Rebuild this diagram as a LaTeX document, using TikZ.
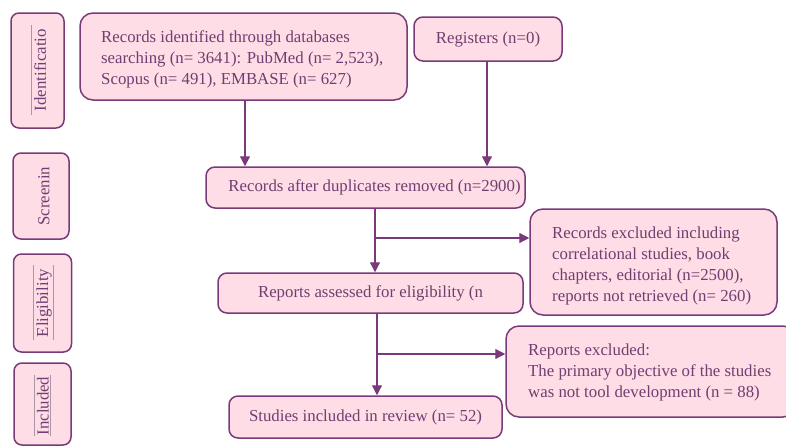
\documentclass[tikz,border=0pt]{standalone}
\usepackage{fontspec}
\setmainfont{Liberation Serif}
\usetikzlibrary{arrows.meta}
\definecolor{boxfill}{RGB}{255,221,230}
\definecolor{boxline}{RGB}{122,58,122}
\definecolor{txt}{RGB}{112,62,112}
\definecolor{rulegray}{RGB}{170,150,165}
\tikzset{
  box/.style={draw=boxline, fill=boxfill, line width=1.5pt, rounded corners=9pt,
    text=txt, font=\fontsize{16.8}{21}\selectfont, inner sep=0pt},
  sidebox/.style={box, rounded corners=8pt},
  plaintext/.style={text=txt, font=\fontsize{16.8}{21}\selectfont, inner sep=0pt, align=left},
  sidetext/.style={text=txt, font=\fontsize{16.8}{21}\selectfont, rotate=90, inner sep=0pt},
  flow/.style={draw=boxline, line width=1.2pt, -{Triangle[length=10pt,width=10pt]}},
  deco/.style={draw=rulegray, line width=0.6pt}
}
\begin{document}
\begin{tikzpicture}[x=1pt,y=-1pt]
\useasboundingbox (0,0) rectangle (786,445);
\clip (0,0) rectangle (786,445);
% side boxes
\node[sidebox, minimum width=53pt, minimum height=115pt] (s1) at (37.5,70.5) {};
\node[sidetext] (s1t) at (40,70) {Identificatio};
\node[sidebox, minimum width=56pt, minimum height=86pt] (s2) at (41,196) {};
\node[sidetext] (s2t) at (44,196) {Screenin};
\node[sidebox, minimum width=58pt, minimum height=98pt] (s3) at (42.5,303) {};
\node[sidetext] (s3t) at (44,303) {Eligibility};
\node[sidebox, minimum width=57pt, minimum height=82pt] (s4) at (42.5,404) {};
\node[sidetext] (s4t) at (43,406) {Included};
% decorative rules beside side labels
\coordinate (d1a) at (31,25); \coordinate (d1b) at (31,115);
\draw[deco] (d1a) -- (d1b);
\coordinate (d3a) at (33,265); \coordinate (d3b) at (33,340);
\coordinate (d3c) at (53,265); \coordinate (d3d) at (53,340);
\draw[deco] (d3a) -- (d3b);
\draw[deco] (d3c) -- (d3d);
\coordinate (d4a) at (34,375); \coordinate (d4b) at (34,436);
\coordinate (d4c) at (50,375); \coordinate (d4d) at (50,436);
\draw[deco] (d4a) -- (d4b);
\draw[deco] (d4c) -- (d4d);
% main boxes
\node[box, rounded corners=13pt, minimum width=327pt, minimum height=87pt] (ident) at (243.5,56.5) {};
\node[plaintext, anchor=west] (identt) at (101,59)
  {Records identified through databases\\searching (n= 3641): PubMed (n= 2,523),\\Scopus (n= 491), EMBASE (n= 627)};
\node[box, minimum width=148pt, minimum height=44pt] (reg) at (488,39) {Registers (n=0)};
\node[box, minimum width=319pt, minimum height=41pt] (dup) at (365.5,187.5) {\hspace*{18pt}Records after duplicates removed (n=2900)};
\node[box, rounded corners=13pt, minimum width=247pt, minimum height=106pt] (ex1) at (653.5,262) {};
\node[plaintext, anchor=west] (ex1t) at (552,266)
  {Records excluded including\\correlational studies, book\\chapters, editorial (n=2500),\\reports not retrieved (n= 260)};
\node[box, minimum width=305pt, minimum height=40pt] (assess) at (370.5,293) {Reports assessed for eligibility (n};
\node[box, rounded corners=13pt, minimum width=290pt, minimum height=91pt] (ex2) at (651,371.5) {};
\node[plaintext, anchor=west] (ex2t) at (528,372)
  {Reports excluded:\\The primary objective of the studies\\was not tool development (n = 88)};
\node[box, minimum width=273pt, minimum height=42pt] (stud) at (365.5,417) {Studies included in review (n= 52)};
% connectors
\draw[flow] (ident.south -| 245,0) -- (dup.north -| 245,0);
\draw[flow] (reg.south -| 487,0) -- (dup.north -| 487,0);
\coordinate (j1) at (375,238);
\draw[flow] (dup.south -| 375,0) -- (assess.north -| 375,0);
\draw[flow] (j1) -- (j1 -| ex1.west);
\coordinate (j2) at (377,354);
\draw[flow] (assess.south -| 377,0) -- (stud.north -| 377,0);
\draw[flow] (j2) -- (j2 -| ex2.west);
\end{tikzpicture}
\end{document}
